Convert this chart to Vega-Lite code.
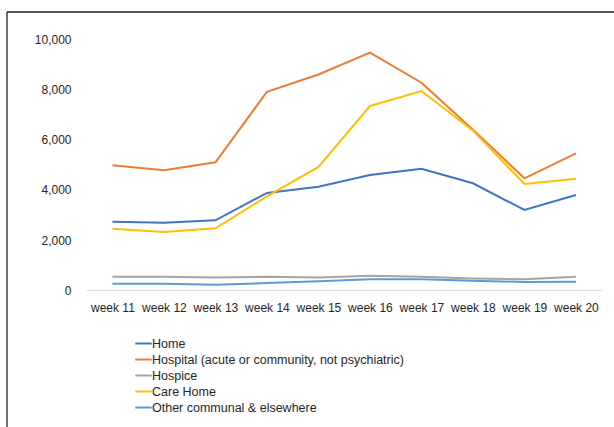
{
  "$schema": "https://vega.github.io/schema/vega-lite/v6.json",
  "autosize": {"type": "none"},
  "padding": {"left": 7, "top": 12, "right": 0, "bottom": 0},
  "width": 607,
  "height": 415,
  "background": "white",
  "view": {"stroke": null},
  "config": {
    "font": "Liberation Sans",
    "axis": {"labelFont": "Liberation Sans", "labelFontSize": 12, "labelColor": "#262626", "grid": false, "domain": false, "ticks": false, "tickSize": 0, "title": null},
    "legend": {"labelFont": "Liberation Sans", "labelFontSize": 12.5, "labelColor": "#262626"}
  },
  "datasets": {
    "deaths": [
      {"week": 11, "place": "Home", "deaths": 2730},
      {"week": 12, "place": "Home", "deaths": 2690},
      {"week": 13, "place": "Home", "deaths": 2790},
      {"week": 14, "place": "Home", "deaths": 3880},
      {"week": 15, "place": "Home", "deaths": 4128},
      {"week": 16, "place": "Home", "deaths": 4594},
      {"week": 17, "place": "Home", "deaths": 4846},
      {"week": 18, "place": "Home", "deaths": 4263},
      {"week": 19, "place": "Home", "deaths": 3199},
      {"week": 20, "place": "Home", "deaths": 3797},
      {"week": 11, "place": "Hospital (acute or community, not psychiatric)", "deaths": 4980},
      {"week": 12, "place": "Hospital (acute or community, not psychiatric)", "deaths": 4780},
      {"week": 13, "place": "Hospital (acute or community, not psychiatric)", "deaths": 5100},
      {"week": 14, "place": "Hospital (acute or community, not psychiatric)", "deaths": 7910},
      {"week": 15, "place": "Hospital (acute or community, not psychiatric)", "deaths": 8600},
      {"week": 16, "place": "Hospital (acute or community, not psychiatric)", "deaths": 9467},
      {"week": 17, "place": "Hospital (acute or community, not psychiatric)", "deaths": 8271},
      {"week": 18, "place": "Hospital (acute or community, not psychiatric)", "deaths": 6400},
      {"week": 19, "place": "Hospital (acute or community, not psychiatric)", "deaths": 4462},
      {"week": 20, "place": "Hospital (acute or community, not psychiatric)", "deaths": 5458},
      {"week": 11, "place": "Hospice", "deaths": 542},
      {"week": 12, "place": "Hospice", "deaths": 540},
      {"week": 13, "place": "Hospice", "deaths": 510},
      {"week": 14, "place": "Hospice", "deaths": 540},
      {"week": 15, "place": "Hospice", "deaths": 515},
      {"week": 16, "place": "Hospice", "deaths": 582},
      {"week": 17, "place": "Hospice", "deaths": 545},
      {"week": 18, "place": "Hospice", "deaths": 470},
      {"week": 19, "place": "Hospice", "deaths": 438},
      {"week": 20, "place": "Hospice", "deaths": 542},
      {"week": 11, "place": "Care Home", "deaths": 2455},
      {"week": 12, "place": "Care Home", "deaths": 2323},
      {"week": 13, "place": "Care Home", "deaths": 2470},
      {"week": 14, "place": "Care Home", "deaths": 3745},
      {"week": 15, "place": "Care Home", "deaths": 4915},
      {"week": 16, "place": "Care Home", "deaths": 7343},
      {"week": 17, "place": "Care Home", "deaths": 7940},
      {"week": 18, "place": "Care Home", "deaths": 6360},
      {"week": 19, "place": "Care Home", "deaths": 4235},
      {"week": 20, "place": "Care Home", "deaths": 4446},
      {"week": 11, "place": "Other communal & elsewhere", "deaths": 263},
      {"week": 12, "place": "Other communal & elsewhere", "deaths": 260},
      {"week": 13, "place": "Other communal & elsewhere", "deaths": 223},
      {"week": 14, "place": "Other communal & elsewhere", "deaths": 290},
      {"week": 15, "place": "Other communal & elsewhere", "deaths": 360},
      {"week": 16, "place": "Other communal & elsewhere", "deaths": 438},
      {"week": 17, "place": "Other communal & elsewhere", "deaths": 438},
      {"week": 18, "place": "Other communal & elsewhere", "deaths": 382},
      {"week": 19, "place": "Other communal & elsewhere", "deaths": 330},
      {"week": 20, "place": "Other communal & elsewhere", "deaths": 343}
    ],
    "baseline": [{"start": 10.5, "end": 20.5, "value": 0}]
  },
  "layer": [
    {
      "data": {"name": "baseline"},
      "mark": {"type": "rule", "color": "#D9D9D9", "strokeWidth": 1},
      "encoding": {
        "x": {"field": "start", "type": "quantitative", "scale": {"domain": [8.953, 20.739], "nice": false, "zero": false}, "axis": {"values": [11, 12, 13, 14, 15, 16, 17, 18, 19, 20], "labelExpr": "'week ' + datum.value", "orient": "bottom", "offset": -126, "labelPadding": 1}},
        "x2": {"field": "end"},
        "y": {"field": "value", "type": "quantitative", "scale": {"domain": [-5446, 11088], "nice": false, "zero": false}, "axis": {"values": [0, 2000, 4000, 6000, 8000, 10000], "labelExpr": "format(datum.value, ',')", "orient": "left", "offset": -64, "labelPadding": 0}}
      }
    },
    {
      "data": {"values": [{}]},
      "mark": {"type": "rule", "color": "#222222", "strokeWidth": 1.3},
      "encoding": {"y": {"datum": 11088, "type": "quantitative"}}
    },
    {
      "data": {"values": [{}]},
      "mark": {"type": "rule", "color": "#222222", "strokeWidth": 1.3},
      "encoding": {"x": {"datum": 8.953, "type": "quantitative"}}
    },
    {
      "data": {"name": "deaths"},
      "mark": {"type": "line", "strokeWidth": 2},
      "encoding": {
        "x": {"field": "week", "type": "quantitative"},
        "y": {"field": "deaths", "type": "quantitative"},
        "color": {
          "field": "place",
          "type": "nominal",
          "scale": {
            "domain": ["Home", "Hospital (acute or community, not psychiatric)", "Hospice", "Care Home", "Other communal & elsewhere"],
            "range": ["#4472C4", "#ED7D31", "#A5A5A5", "#FFC000", "#5B9BD5"]
          },
          "legend": {"orient": "none", "legendX": 127, "legendY": 322, "title": null, "symbolType": "stroke", "symbolSize": 270, "symbolStrokeWidth": 2, "labelOffset": -1, "rowPadding": 0, "labelLimit": 400}
        }
      }
    }
  ]
}
